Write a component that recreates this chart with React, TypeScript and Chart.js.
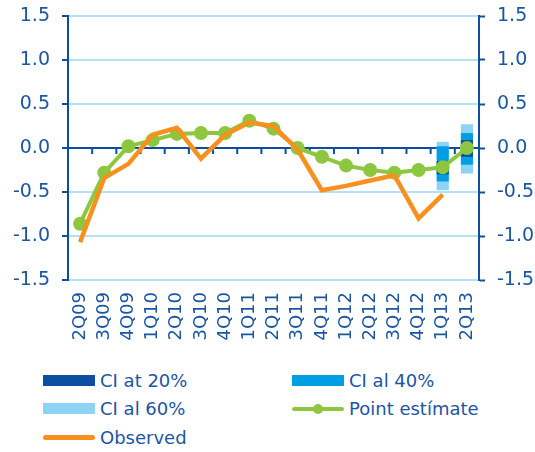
import React, { useEffect, useRef } from "react";
import { Chart, registerables } from "chart.js";

Chart.register(...registerables);

const categories = ["2Q09", "3Q09", "4Q09", "1Q10", "2Q10", "3Q10", "4Q10", "1Q11", "2Q11", "3Q11", "4Q11", "1Q12", "2Q12", "3Q12", "4Q12", "1Q13", "2Q13"];
const pointEstimate = [-0.86, -0.28, 0.02, 0.09, 0.16, 0.17, 0.17, 0.31, 0.22, 0.0, -0.1, -0.2, -0.25, -0.28, -0.25, -0.22, 0.0];
const observed = [-1.07, -0.34, -0.18, 0.15, 0.23, -0.12, 0.15, 0.29, 0.25, -0.02, -0.48, -0.43, -0.37, -0.31, -0.8, -0.53, null];
const ci20 = [null, null, null, null, null, null, null, null, null, null, null, null, null, null, null, [-0.3, -0.15], [-0.1, 0.09]];
const ci40 = [null, null, null, null, null, null, null, null, null, null, null, null, null, null, null, [-0.38, 0.02], [-0.19, 0.17]];
const ci60 = [null, null, null, null, null, null, null, null, null, null, null, null, null, null, null, [-0.48, 0.07], [-0.29, 0.27]];
const yMin = -1.5;
const yMax = 1.5;
const yStep = 0.5;

const DARK = "#0b4ea2";
const MID = "#009fe3";
const LIGHT = "#8dd3f3";
const GREEN = "#8dc63f";
const ORANGE = "#f7901e";
const GRID = "#b3e1f7";
const TEXT = "#1b56a3";
const FONT = "'DejaVu Sans', sans-serif";

const labels = {
  ci20: "CI at 20%",
  ci40: "CI al 40%",
  ci60: "CI al 60%",
  point: "Point estímate",
  observed: "Observed",
};

const zeroTicks = {
  id: "zeroTicks",
  beforeDatasetsDraw(chart: any) {
    const x = chart.scales.x;
    const y = chart.scales.y;
    const y0 = y.getPixelForValue(0);
    const ctx = chart.ctx;
    ctx.save();
    ctx.strokeStyle = DARK;
    ctx.lineWidth = 2;
    ctx.beginPath();
    for (let i = 1; i < categories.length; i++) {
      const px = (x.getPixelForValue(i - 1) + x.getPixelForValue(i)) / 2;
      ctx.moveTo(px, y0);
      ctx.lineTo(px, y0 + 6);
    }
    ctx.stroke();
    ctx.restore();
  },
};

const CANVAS_H = 362;
const PLOT_TOP = 16;
const PLOT_BOTTOM = 280;

function ChartView() {
  const ref = useRef<HTMLCanvasElement | null>(null);
  useEffect(() => {
    if (!ref.current) return;
    const tickFont = { family: FONT, size: 19 };
    const yTicks = {
      stepSize: yStep,
      color: TEXT,
      font: tickFont,
      padding: 12,
      callback: (v: any) => Number(v).toFixed(1),
    };
    const barCommon = {
      type: "bar",
      borderWidth: 0,
      grouped: false,
      barPercentage: 0.5,
      categoryPercentage: 1,
      yAxisID: "y",
    };
    const fitY = (w: number) => (s: any) => {
      s.width = w;
      s.paddingTop = 0;
      s.paddingBottom = 0;
    };
    const chart = new Chart(ref.current, {
      type: "bar",
      data: {
        labels: categories,
        datasets: [
          {
            type: "line",
            label: labels.observed,
            data: observed,
            borderColor: ORANGE,
            backgroundColor: ORANGE,
            borderWidth: 4.5,
            pointRadius: 0,
            order: 0,
            yAxisID: "y",
          },
          {
            type: "line",
            label: labels.point,
            data: pointEstimate,
            borderColor: GREEN,
            backgroundColor: GREEN,
            pointBackgroundColor: GREEN,
            pointBorderColor: GREEN,
            borderWidth: 4,
            pointRadius: 5,
            order: 1,
            yAxisID: "y",
          },
          { ...barCommon, label: labels.ci20, data: ci20 as any, backgroundColor: DARK, order: 2 },
          { ...barCommon, label: labels.ci40, data: ci40 as any, backgroundColor: MID, order: 3 },
          { ...barCommon, label: labels.ci60, data: ci60 as any, backgroundColor: LIGHT, order: 4 },
        ] as any,
      },
      options: {
        animation: false,
        responsive: false,
        maintainAspectRatio: false,
        layout: { padding: { top: PLOT_TOP, left: 0, right: 0, bottom: 0 } },
        plugins: { legend: { display: false }, tooltip: { enabled: false } },
        scales: {
          x: {
            type: "category",
            offset: true,
            grid: { display: false, drawTicks: false },
            border: { display: false },
            ticks: {
              color: TEXT,
              font: { family: FONT, size: 18 },
              minRotation: 90,
              maxRotation: 90,
              autoSkip: false,
              padding: 12,
            },
            afterFit: (s: any) => {
              s.height = CANVAS_H - PLOT_BOTTOM;
            },
          },
          y: {
            position: "left",
            min: yMin,
            max: yMax,
            ticks: yTicks,
            grid: {
              color: (c: any) => (c.tick && c.tick.value === 0 ? DARK : GRID),
              lineWidth: 2,
              drawTicks: true,
              tickLength: 6,
              tickColor: DARK,
              tickWidth: 2,
            },
            border: { color: DARK, width: 2 },
            afterFit: fitY(68),
          },
          y1: {
            position: "right",
            min: yMin,
            max: yMax,
            ticks: yTicks,
            grid: {
              drawOnChartArea: false,
              drawTicks: true,
              tickLength: 6,
              tickColor: DARK,
              tickWidth: 2,
            },
            border: { color: DARK, width: 2 },
            afterFit: fitY(56),
          },
        },
      } as any,
      plugins: [zeroTicks],
    });
    return () => chart.destroy();
  }, []);
  return <canvas ref={ref} width={535} height={CANVAS_H} style={{ display: "block", width: 535, height: CANVAS_H }} />;
}

type LegendItem = { label: string; kind: "box" | "line" | "linePoint"; color: string };
const legendItems: LegendItem[] = [
  { label: labels.ci20, kind: "box", color: DARK },
  { label: labels.ci40, kind: "box", color: MID },
  { label: labels.ci60, kind: "box", color: LIGHT },
  { label: labels.point, kind: "linePoint", color: GREEN },
  { label: labels.observed, kind: "line", color: ORANGE },
];

function LegendMark({ item }: { item: LegendItem }) {
  const base: React.CSSProperties = { position: "relative", width: 52, height: 12, marginRight: 5, flex: "0 0 auto" };
  if (item.kind === "box") {
    return (
      <div style={base}>
        <div style={{ position: "absolute", left: 0, top: 0.5, width: 52, height: 11, background: item.color }} />
      </div>
    );
  }
  return (
    <div style={base}>
      <div style={{ position: "absolute", left: 0, top: 4, width: 52, height: 4.5, borderRadius: 3, background: item.color }} />
      {item.kind === "linePoint" && (
        <div style={{ position: "absolute", left: 21, top: 1, width: 10, height: 10, borderRadius: 5, background: item.color }} />
      )}
    </div>
  );
}

function Legend() {
  const colLeft = [43, 292];
  const rowCenter = [380, 408.5, 437];
  return (
    <>
      {legendItems.map((item, i) => {
        const col = i % 2;
        const row = Math.floor(i / 2);
        return (
          <div
            key={item.label}
            style={{
              position: "absolute",
              left: colLeft[col],
              top: rowCenter[row] - 12,
              height: 24,
              display: "flex",
              alignItems: "center",
              fontFamily: FONT,
              fontSize: 18,
              color: TEXT,
              whiteSpace: "nowrap",
            }}
          >
            <LegendMark item={item} />
            <span>{item.label}</span>
          </div>
        );
      })}
    </>
  );
}

export default function App() {
  return (
    <div style={{ position: "absolute", left: 0, top: 0, width: 535, height: 452, background: "#fff", overflow: "hidden" }}>
      <ChartView />
      <Legend />
    </div>
  );
}
